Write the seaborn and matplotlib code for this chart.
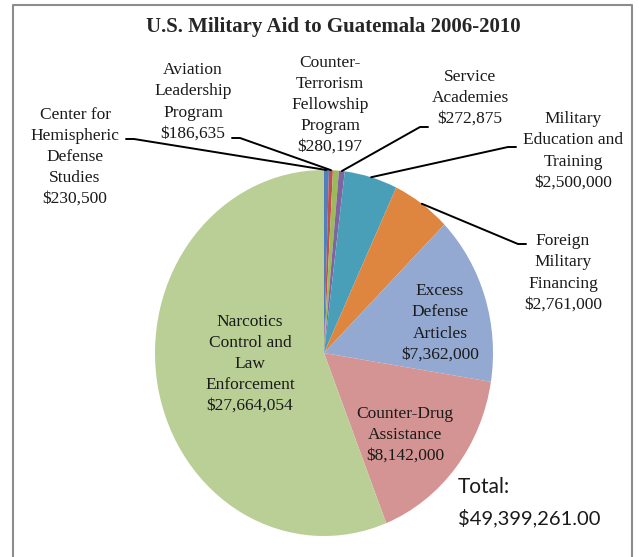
import matplotlib
matplotlib.use("Agg")
import matplotlib.pyplot as plt
import seaborn as sns
import numpy as np

# Daten
names = [
    "Center for\nHemispheric\nDefense\nStudies",
    "Aviation\nLeadership\nProgram",
    "Counter-\nTerrorism\nFellowship\nProgram",
    "Service\nAcademies",
    "Military\nEducation and\nTraining",
    "Foreign\nMilitary\nFinancing",
    "Excess\nDefense\nArticles",
    "Counter-Drug\nAssistance",
    "Narcotics\nControl and\nLaw\nEnforcement",
]
amounts = [230500, 186635, 280197, 272875, 2500000, 2761000, 7362000, 8142000, 27664054]
colors = ["#4F7FBD", "#C0504D", "#9BBB59", "#8064A2", "#4A9FB8",
          "#DE8640", "#93A9D1", "#D49493", "#B9CF96"]

# Label-Positionen (Pixel, Mitte der Textbox) und Leader-Ankerpunkte
label_pos = [(75, 157), (193, 102), (330, 105), (470, 98), (573, 151),
             (563, 273), (440, 323), (405, 435), (250, 364)]
leader_anchor = {0: (126, 139), 1: (232, 138), 3: (428, 127), 4: (516, 147), 5: (526, 244)}

sns.set_theme(style="white")
plt.rcParams["font.family"] = ["Liberation Serif", "DejaVu Serif"]

W, H = 639, 557
fig = plt.figure(figsize=(W / 100, H / 100), dpi=100)
fig.patch.set_facecolor("white")

# Kreisdiagramm (leicht elliptisch wie im Original)
pie_ax = fig.add_axes([155 / W, (H - 536) / H, 338 / W, 366 / H])
wedges, _ = pie_ax.pie(amounts, colors=colors, startangle=90, counterclock=False,
                       wedgeprops=dict(linewidth=0))
pie_ax.set_aspect("auto")
pie_ax.set_xlim(-1, 1)
pie_ax.set_ylim(-1, 1)

# Overlay in Pixelkoordinaten für Texte und Linien
ov = fig.add_axes([0, 0, 1, 1], zorder=5)
ov.set_xlim(0, W)
ov.set_ylim(H, 0)
ov.axis("off")

# Rahmen
ov.plot([13, 13, 632, 632], [560, 5, 5, 560], color="#8c8c8c", lw=1.5, clip_on=False)

ov.text(W / 2 + 14, 27, "U.S. Military Aid to Guatemala 2006-2010", ha="center", va="center",
        fontsize=15, fontweight="bold")

total = sum(amounts)
frac = np.array(amounts) / total
mid = np.cumsum(frac) - frac / 2
theta = np.deg2rad(90 - mid * 360)

for i, (name, val) in enumerate(zip(names, amounts)):
    x, y = label_pos[i]
    ov.text(x, y, f"{name}\n${val:,}", ha="center", va="center", fontsize=12.5,
            linespacing=1.42, color="#1a1a1a")
    if i in leader_anchor:
        px, py = pie_ax.transData.transform((np.cos(theta[i]), np.sin(theta[i])))
        px, py = ov.transData.inverted().transform((px, py))
        ax0, ay0 = leader_anchor[i]
        step = 8 if ax0 < px else -8
        ov.plot([ax0, ax0 + step, px], [ay0, ay0, py], color="black", lw=1.4)

ov.text(458, 487, "Total:", ha="left", va="center", fontsize=15, family="Lato", color="#1a1a1a")
ov.text(458, 518, f"${total:,.2f}", ha="left", va="center", fontsize=14.5, family="Lato",
        color="#1a1a1a")

fig.savefig("out.png", dpi=100)
